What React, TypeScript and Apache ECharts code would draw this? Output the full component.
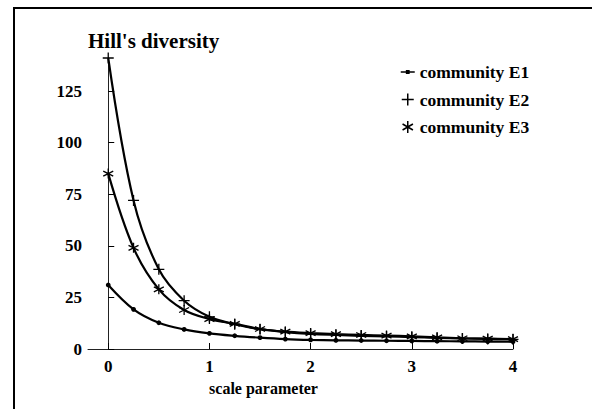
import React, { useEffect, useRef } from "react";
import * as echarts from "echarts";

const scaleParams = [0, 0.25, 0.5, 0.75, 1, 1.25, 1.5, 1.75, 2, 2.25, 2.5, 2.75, 3, 3.25, 3.5, 3.75, 4];
const e1Values = [31, 19.2, 12.7, 9.5, 7.6, 6.4, 5.5, 4.8, 4.4, 4.2, 4.1, 4.0, 3.9, 3.8, 3.7, 3.6, 3.5];
const e2Values = [141, 72, 38.6, 23.4, 15.6, 12.0, 9.6, 8.2, 7.3, 6.8, 6.4, 6.1, 5.8, 5.4, 5.1, 4.9, 4.7];
const e3Values = [85, 49, 28.9, 18.9, 14.5, 12.2, 9.7, 8.4, 7.7, 7.2, 6.8, 6.5, 6.1, 5.6, 5.2, 5.0, 4.8];
const seriesNames = ["community E1", "community E2", "community E3"];
const xTicks = [0, 1, 2, 3, 4];
const yTicks = [0, 25, 50, 75, 100, 125];

const FONT = "'Liberation Serif', 'Times New Roman', serif";
const PLUS = "path://M0,-5L0,5M-5,0L5,0";
const STAR = "path://M0,-5L0,5M-4.33,-2.5L4.33,2.5M-4.33,2.5L4.33,-2.5";
const DASHDOT = "path://M0,5L12,5M5,4L7,4L7,6L5,6Z";

export default function App() {
  const ref = useRef<HTMLDivElement>(null);
  useEffect(() => {
    document.body.style.margin = "0";
    const chart = echarts.init(ref.current!, null, { renderer: "svg" });
    const pairs = (vals: number[]) => scaleParams.map((x, i) => [x, vals[i]]);
    const baseSeries = {
      type: "line" as const,
      smooth: 0.35,
      lineStyle: { color: "#000", width: 2.2 },
      itemStyle: { color: "#000", borderColor: "#000", borderWidth: 1.3 },
      z: 3,
    };
    chart.setOption({
      animation: false,
      backgroundColor: "#fff",
      title: {
        text: "Hill's diversity",
        left: 83,
        top: 25,
        textStyle: { fontFamily: FONT, fontWeight: "bold", fontSize: 21, color: "#000" },
      },
      legend: {
        orient: "vertical",
        left: 395,
        top: 57,
        itemWidth: 14,
        itemHeight: 12,
        itemGap: 7.5,
        textStyle: { fontFamily: FONT, fontWeight: "bold", fontSize: 17.5, color: "#000", lineHeight: 20 },
        itemStyle: { color: "#000", borderColor: "#000", borderWidth: 1.5 },
        data: [
          { name: seriesNames[0], icon: DASHDOT },
          { name: seriesNames[1], icon: PLUS },
          { name: seriesNames[2], icon: STAR },
        ],
      },
      grid: { left: 88, right: 79, top: 58, bottom: 60 },
      xAxis: {
        type: "value",
        min: -0.2,
        max: 4,
        name: "scale parameter",
        nameLocation: "middle",
        nameGap: 31,
        nameTextStyle: {
          fontFamily: FONT, fontWeight: "bold", fontSize: 16, color: "#000",
          padding: [0, 74, 0, 0],
        },
        axisLine: { show: true, lineStyle: { color: "#222", width: 1 } },
        axisTick: { show: true, inside: true, length: 6, customValues: xTicks, lineStyle: { color: "#000" } },
        axisLabel: {
          customValues: xTicks, margin: 9,
          fontFamily: FONT, fontWeight: "bold", fontSize: 17, color: "#000",
        },
        splitLine: { show: false },
      },
      yAxis: {
        type: "value",
        min: 0,
        max: 141,
        axisLine: { show: true, lineStyle: { color: "#222", width: 1 } },
        axisTick: { show: true, inside: true, length: 6, customValues: yTicks, lineStyle: { color: "#000" } },
        axisLabel: {
          customValues: yTicks, margin: 6,
          fontFamily: FONT, fontWeight: "bold", fontSize: 17, color: "#000",
        },
        splitLine: { show: false },
      },
      graphic: [
        {
          type: "line",
          shape: { x1: 14, y1: 8, x2: 592, y2: 8 },
          style: { stroke: "#000", lineWidth: 2 },
          silent: true,
        },
        {
          type: "line",
          shape: { x1: 14, y1: 7, x2: 14, y2: 409 },
          style: { stroke: "#000", lineWidth: 2 },
          silent: true,
        },
      ],
      series: [
        { ...baseSeries, name: seriesNames[0], data: pairs(e1Values), symbol: "circle", symbolSize: 3.5, showSymbol: true },
        { ...baseSeries, name: seriesNames[1], data: pairs(e2Values), symbol: PLUS, symbolSize: 11 },
        { ...baseSeries, name: seriesNames[2], data: pairs(e3Values), symbol: STAR, symbolSize: 10 },
      ],
    });
    return () => chart.dispose();
  }, []);
  return <div ref={ref} style={{ width: 592, height: 409 }} />;
}
